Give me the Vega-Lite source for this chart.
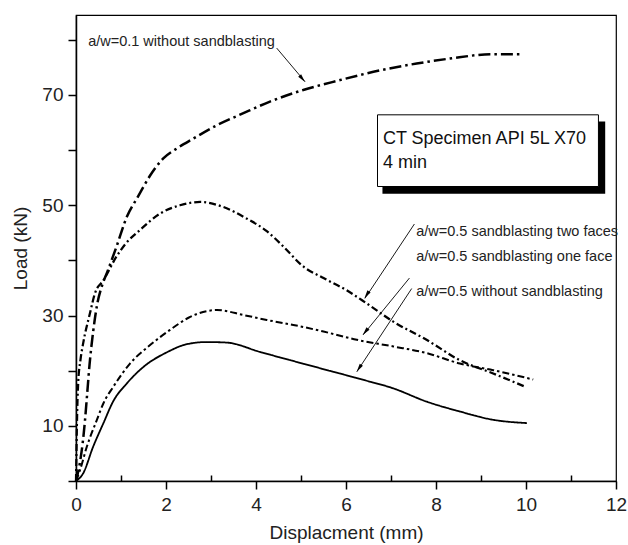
{
  "$schema": "https://vega.github.io/schema/vega-lite/v6.json",
  "width": 540,
  "height": 466,
  "autosize": "none",
  "padding": {"left": 76, "top": 15, "right": 12, "bottom": 64},
  "background": "white",
  "config": {
    "font": "Liberation Sans",
    "view": {"stroke": "black", "strokeWidth": 1.2},
    "axis": {"grid": false, "domainColor": "black", "domainWidth": 1.5, "tickColor": "black", "tickWidth": 1.5, "labelColor": "#222", "titleColor": "#222", "labelFontSize": 19, "titleFontSize": 19, "titleFontWeight": "normal"}
  },
  "datasets": {
    "curves": [
      {"series": "a/w=0.1 without sandblasting", "x": 0, "y": 0},
      {"series": "a/w=0.1 without sandblasting", "x": 0.08, "y": 3},
      {"series": "a/w=0.1 without sandblasting", "x": 0.15, "y": 7},
      {"series": "a/w=0.1 without sandblasting", "x": 0.2, "y": 11},
      {"series": "a/w=0.1 without sandblasting", "x": 0.25, "y": 16},
      {"series": "a/w=0.1 without sandblasting", "x": 0.3, "y": 21},
      {"series": "a/w=0.1 without sandblasting", "x": 0.38, "y": 27},
      {"series": "a/w=0.1 without sandblasting", "x": 0.47, "y": 32},
      {"series": "a/w=0.1 without sandblasting", "x": 0.57, "y": 35.2},
      {"series": "a/w=0.1 without sandblasting", "x": 0.7, "y": 38},
      {"series": "a/w=0.1 without sandblasting", "x": 0.9, "y": 42.5},
      {"series": "a/w=0.1 without sandblasting", "x": 1.13, "y": 47.9},
      {"series": "a/w=0.1 without sandblasting", "x": 1.38, "y": 51.6},
      {"series": "a/w=0.1 without sandblasting", "x": 1.64, "y": 55.3},
      {"series": "a/w=0.1 without sandblasting", "x": 1.94, "y": 58.5},
      {"series": "a/w=0.1 without sandblasting", "x": 2.24, "y": 60.3},
      {"series": "a/w=0.1 without sandblasting", "x": 2.61, "y": 62.1},
      {"series": "a/w=0.1 without sandblasting", "x": 3.13, "y": 64.5},
      {"series": "a/w=0.1 without sandblasting", "x": 3.72, "y": 66.7},
      {"series": "a/w=0.1 without sandblasting", "x": 4.31, "y": 68.8},
      {"series": "a/w=0.1 without sandblasting", "x": 5.05, "y": 70.9},
      {"series": "a/w=0.1 without sandblasting", "x": 5.87, "y": 72.7},
      {"series": "a/w=0.1 without sandblasting", "x": 6.61, "y": 74.2},
      {"series": "a/w=0.1 without sandblasting", "x": 7.57, "y": 75.7},
      {"series": "a/w=0.1 without sandblasting", "x": 8.31, "y": 76.6},
      {"series": "a/w=0.1 without sandblasting", "x": 9.27, "y": 77.4},
      {"series": "a/w=0.1 without sandblasting", "x": 9.9, "y": 77.4},

      {"series": "a/w=0.5 sandblasting two faces", "x": 0, "y": 0},
      {"series": "a/w=0.5 sandblasting two faces", "x": 0.01, "y": 5},
      {"series": "a/w=0.5 sandblasting two faces", "x": 0.02, "y": 10},
      {"series": "a/w=0.5 sandblasting two faces", "x": 0.05, "y": 18},
      {"series": "a/w=0.5 sandblasting two faces", "x": 0.1, "y": 22},
      {"series": "a/w=0.5 sandblasting two faces", "x": 0.16, "y": 25},
      {"series": "a/w=0.5 sandblasting two faces", "x": 0.31, "y": 30.4},
      {"series": "a/w=0.5 sandblasting two faces", "x": 0.42, "y": 34},
      {"series": "a/w=0.5 sandblasting two faces", "x": 0.61, "y": 36.4},
      {"series": "a/w=0.5 sandblasting two faces", "x": 0.9, "y": 40.7},
      {"series": "a/w=0.5 sandblasting two faces", "x": 1.1, "y": 43},
      {"series": "a/w=0.5 sandblasting two faces", "x": 1.42, "y": 45.5},
      {"series": "a/w=0.5 sandblasting two faces", "x": 1.87, "y": 48.5},
      {"series": "a/w=0.5 sandblasting two faces", "x": 2.31, "y": 50},
      {"series": "a/w=0.5 sandblasting two faces", "x": 2.76, "y": 50.6},
      {"series": "a/w=0.5 sandblasting two faces", "x": 3.27, "y": 49.7},
      {"series": "a/w=0.5 sandblasting two faces", "x": 3.79, "y": 47.6},
      {"series": "a/w=0.5 sandblasting two faces", "x": 4.24, "y": 45.3},
      {"series": "a/w=0.5 sandblasting two faces", "x": 4.61, "y": 42.5},
      {"series": "a/w=0.5 sandblasting two faces", "x": 5.05, "y": 38.9},
      {"series": "a/w=0.5 sandblasting two faces", "x": 5.5, "y": 36.8},
      {"series": "a/w=0.5 sandblasting two faces", "x": 6.01, "y": 34.6},
      {"series": "a/w=0.5 sandblasting two faces", "x": 6.46, "y": 32.2},
      {"series": "a/w=0.5 sandblasting two faces", "x": 7.05, "y": 28.9},
      {"series": "a/w=0.5 sandblasting two faces", "x": 7.79, "y": 25.6},
      {"series": "a/w=0.5 sandblasting two faces", "x": 8.53, "y": 21.9},
      {"series": "a/w=0.5 sandblasting two faces", "x": 9.27, "y": 19.5},
      {"series": "a/w=0.5 sandblasting two faces", "x": 9.98, "y": 17.1},

      {"series": "a/w=0.5 sandblasting one face", "x": 0, "y": 0},
      {"series": "a/w=0.5 sandblasting one face", "x": 0.09, "y": 2},
      {"series": "a/w=0.5 sandblasting one face", "x": 0.24, "y": 6.2},
      {"series": "a/w=0.5 sandblasting one face", "x": 0.46, "y": 11},
      {"series": "a/w=0.5 sandblasting one face", "x": 0.61, "y": 14.1},
      {"series": "a/w=0.5 sandblasting one face", "x": 0.83, "y": 17.1},
      {"series": "a/w=0.5 sandblasting one face", "x": 1.2, "y": 21.3},
      {"series": "a/w=0.5 sandblasting one face", "x": 1.64, "y": 24.6},
      {"series": "a/w=0.5 sandblasting one face", "x": 2.09, "y": 27.4},
      {"series": "a/w=0.5 sandblasting one face", "x": 2.5, "y": 29.6},
      {"series": "a/w=0.5 sandblasting one face", "x": 2.9, "y": 30.8},
      {"series": "a/w=0.5 sandblasting one face", "x": 3.13, "y": 31},
      {"series": "a/w=0.5 sandblasting one face", "x": 3.72, "y": 30.1},
      {"series": "a/w=0.5 sandblasting one face", "x": 4.24, "y": 29.2},
      {"series": "a/w=0.5 sandblasting one face", "x": 4.83, "y": 28.3},
      {"series": "a/w=0.5 sandblasting one face", "x": 5.5, "y": 27.1},
      {"series": "a/w=0.5 sandblasting one face", "x": 6.24, "y": 25.6},
      {"series": "a/w=0.5 sandblasting one face", "x": 7.05, "y": 24.4},
      {"series": "a/w=0.5 sandblasting one face", "x": 7.79, "y": 23.2},
      {"series": "a/w=0.5 sandblasting one face", "x": 8.53, "y": 21.3},
      {"series": "a/w=0.5 sandblasting one face", "x": 9.27, "y": 20.1},
      {"series": "a/w=0.5 sandblasting one face", "x": 10.16, "y": 18.4},

      {"series": "a/w=0.5 without sandblasting", "x": 0, "y": 0},
      {"series": "a/w=0.5 without sandblasting", "x": 0.16, "y": 1.4},
      {"series": "a/w=0.5 without sandblasting", "x": 0.38, "y": 6.2},
      {"series": "a/w=0.5 without sandblasting", "x": 0.61, "y": 10.5},
      {"series": "a/w=0.5 without sandblasting", "x": 0.83, "y": 14.5},
      {"series": "a/w=0.5 without sandblasting", "x": 1.13, "y": 17.7},
      {"series": "a/w=0.5 without sandblasting", "x": 1.5, "y": 20.7},
      {"series": "a/w=0.5 without sandblasting", "x": 2.01, "y": 23.3},
      {"series": "a/w=0.5 without sandblasting", "x": 2.46, "y": 24.8},
      {"series": "a/w=0.5 without sandblasting", "x": 2.9, "y": 25.2},
      {"series": "a/w=0.5 without sandblasting", "x": 3.35, "y": 25.1},
      {"series": "a/w=0.5 without sandblasting", "x": 4.09, "y": 23.4},
      {"series": "a/w=0.5 without sandblasting", "x": 4.9, "y": 21.6},
      {"series": "a/w=0.5 without sandblasting", "x": 5.72, "y": 19.8},
      {"series": "a/w=0.5 without sandblasting", "x": 6.31, "y": 18.5},
      {"series": "a/w=0.5 without sandblasting", "x": 7.05, "y": 16.8},
      {"series": "a/w=0.5 without sandblasting", "x": 7.79, "y": 14.4},
      {"series": "a/w=0.5 without sandblasting", "x": 8.53, "y": 12.6},
      {"series": "a/w=0.5 without sandblasting", "x": 9.27, "y": 11.1},
      {"series": "a/w=0.5 without sandblasting", "x": 10.02, "y": 10.5}
    ],
    "arrows": [
      {"id": "a", "x": 4.46, "y": 78.5, "x2": 5.09, "y2": 72.4},
      {"id": "b", "x": 7.52, "y": 46.6, "x2": 6.42, "y2": 33.1},
      {"id": "c", "x": 7.41, "y": 36.8, "x2": 6.38, "y2": 26.5},
      {"id": "d", "x": 7.46, "y": 34.9, "x2": 6.24, "y2": 19.8}
    ],
    "heads": [
      {"id": "a", "x": 5.03, "y": 72.95},
      {"id": "b", "x": 6.46, "y": 33.75},
      {"id": "c", "x": 6.43, "y": 27.05},
      {"id": "d", "x": 6.29, "y": 20.45}
    ],
    "labels": [
      {"x": 0.27, "y": 79.6, "text": "a/w=0.1 without sandblasting"},
      {"x": 7.56, "y": 45.2, "text": "a/w=0.5 sandblasting two faces"},
      {"x": 7.56, "y": 40.6, "text": "a/w=0.5 sandblasting one face"},
      {"x": 7.56, "y": 34.3, "text": "a/w=0.5 without sandblasting"}
    ],
    "box": [
      {"part": "shadow", "x": 6.81, "x2": 11.76, "y": 52.1, "y2": 65.2},
      {"part": "frame", "x": 6.7, "x2": 11.61, "y": 53.4, "y2": 66.4}
    ],
    "boxtext": [
      {"x": 6.82, "y": 61.05, "text": "CT Specimen API 5L X70"},
      {"x": 6.82, "y": 56.7, "text": "4 min"}
    ]
  },
  "layer": [
    {
      "data": {"name": "curves"},
      "mark": {"type": "line", "color": "black", "interpolate": "monotone", "strokeCap": "butt"},
      "encoding": {
        "x": {"field": "x", "type": "quantitative", "scale": {"domain": [0, 12], "nice": false, "zero": false},
          "axis": {"title": "Displacment (mm)", "values": [0, 1, 2, 3, 4, 5, 6, 7, 8, 9, 10, 11, 12],
            "labelExpr": "datum.value % 2 == 0 ? datum.label : ''",
            "tickSize": {"condition": {"test": "datum.value % 2 == 1", "value": -6}, "value": 8},
            "labelPadding": 6, "titlePadding": 9, "labelFlush": false}},
        "y": {"field": "y", "type": "quantitative", "scale": {"domain": [0, 84.5], "nice": false},
          "axis": {"title": "Load (kN)", "values": [0, 5, 10, 15, 20, 25, 30, 35, 40, 45, 50, 55, 60, 65, 70, 75, 80],
            "labelExpr": "(datum.value + 10) % 20 == 0 ? datum.label : ''",
            "tickSize": 8, "labelPadding": 5, "titlePadding": 11, "labelFlush": false}},
        "strokeDash": {"field": "series", "type": "nominal", "legend": null,
          "scale": {"domain": ["a/w=0.1 without sandblasting", "a/w=0.5 sandblasting two faces", "a/w=0.5 sandblasting one face", "a/w=0.5 without sandblasting"],
            "range": [[12, 4, 2.5, 4], [7, 3, 2, 3], [7, 3, 2.5, 3], [1, 0]]}},
        "strokeWidth": {"field": "series", "type": "nominal", "legend": null,
          "scale": {"domain": ["a/w=0.1 without sandblasting", "a/w=0.5 sandblasting two faces", "a/w=0.5 sandblasting one face", "a/w=0.5 without sandblasting"],
            "range": [2.5, 1.8, 2.2, 3.3]}}
      }
    },
    {
      "data": {"name": "arrows"},
      "mark": {"type": "rule", "color": "black", "strokeWidth": 0.9},
      "encoding": {
        "x": {"field": "x", "type": "quantitative"},
        "y": {"field": "y", "type": "quantitative"},
        "x2": {"field": "x2"},
        "y2": {"field": "y2"}
      }
    },
    {
      "data": {"name": "heads"},
      "transform": [{"filter": "datum.id == 'a'"}],
      "mark": {"type": "point", "shape": "M0,-1.2L0.55,1.2L-0.55,1.2Z", "filled": true, "fill": "black", "strokeWidth": 0, "size": 49, "opacity": 1, "angle": 140},
      "encoding": {"x": {"field": "x", "type": "quantitative"}, "y": {"field": "y", "type": "quantitative"}}
    },
    {
      "data": {"name": "heads"},
      "transform": [{"filter": "datum.id == 'b'"}],
      "mark": {"type": "point", "shape": "M0,-1.2L0.55,1.2L-0.55,1.2Z", "filled": true, "fill": "black", "strokeWidth": 0, "size": 49, "opacity": 1, "angle": 213.6},
      "encoding": {"x": {"field": "x", "type": "quantitative"}, "y": {"field": "y", "type": "quantitative"}}
    },
    {
      "data": {"name": "heads"},
      "transform": [{"filter": "datum.id == 'c'"}],
      "mark": {"type": "point", "shape": "M0,-1.2L0.55,1.2L-0.55,1.2Z", "filled": true, "fill": "black", "strokeWidth": 0, "size": 49, "opacity": 1, "angle": 219.1},
      "encoding": {"x": {"field": "x", "type": "quantitative"}, "y": {"field": "y", "type": "quantitative"}}
    },
    {
      "data": {"name": "heads"},
      "transform": [{"filter": "datum.id == 'd'"}],
      "mark": {"type": "point", "shape": "M0,-1.2L0.55,1.2L-0.55,1.2Z", "filled": true, "fill": "black", "strokeWidth": 0, "size": 49, "opacity": 1, "angle": 213.4},
      "encoding": {"x": {"field": "x", "type": "quantitative"}, "y": {"field": "y", "type": "quantitative"}}
    },
    {
      "data": {"name": "labels"},
      "mark": {"type": "text", "align": "left", "baseline": "middle", "fontSize": 14.5, "color": "#222"},
      "encoding": {
        "x": {"field": "x", "type": "quantitative"},
        "y": {"field": "y", "type": "quantitative"},
        "text": {"field": "text"}
      }
    },
    {
      "data": {"name": "box"},
      "transform": [{"filter": "datum.part == 'shadow'"}],
      "mark": {"type": "rect", "color": "black"},
      "encoding": {
        "x": {"field": "x", "type": "quantitative"}, "x2": {"field": "x2"},
        "y": {"field": "y", "type": "quantitative"}, "y2": {"field": "y2"}
      }
    },
    {
      "data": {"name": "box"},
      "transform": [{"filter": "datum.part == 'frame'"}],
      "mark": {"type": "rect", "fill": "white", "stroke": "black", "strokeWidth": 1},
      "encoding": {
        "x": {"field": "x", "type": "quantitative"}, "x2": {"field": "x2"},
        "y": {"field": "y", "type": "quantitative"}, "y2": {"field": "y2"}
      }
    },
    {
      "data": {"name": "boxtext"},
      "mark": {"type": "text", "align": "left", "baseline": "alphabetic", "fontSize": 18, "color": "#111"},
      "encoding": {
        "x": {"field": "x", "type": "quantitative"},
        "y": {"field": "y", "type": "quantitative"},
        "text": {"field": "text"}
      }
    }
  ]
}
